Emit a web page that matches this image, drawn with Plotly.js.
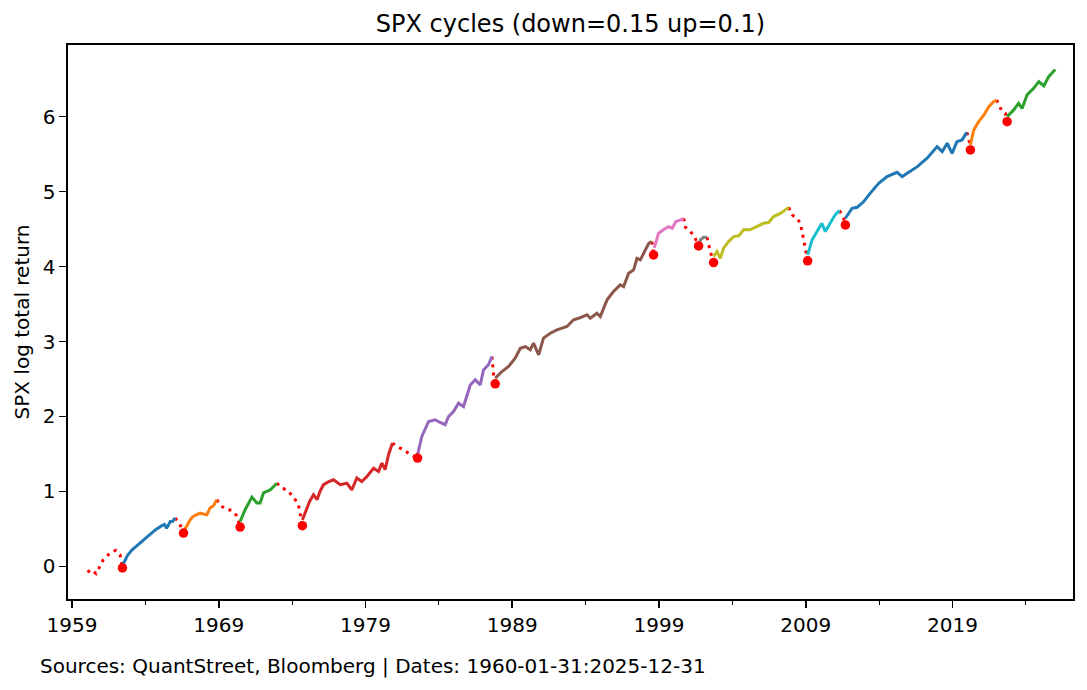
<!DOCTYPE html>
<html>
<head>
<meta charset="utf-8">
<script src="https://cdn.plot.ly/plotly-3.0.1.min.js"></script>
<style>
  body { margin: 0; background: #fff; }
  #chart { width: 1087px; height: 690px; }
</style>
</head>
<body>
<div id="chart"></div>
<script>
// SPX log total return, split into up cycles (solid) and drawdowns (dotted)
// values, x in decimal years

// up cycles
const upX = [
  [1962.5, 1962.8, 1963.1, 1963.5, 1963.9, 1964.3, 1964.7, 1965.1, 1965.3, 1965.45, 1965.7, 1965.85, 1966.03],
  [1966.68, 1967.05, 1967.25, 1967.5, 1967.73, 1967.96, 1968.19, 1968.41, 1968.64, 1968.87],
  [1970.46, 1970.8, 1971.26, 1971.6, 1971.82, 1972.05, 1972.5, 1972.96],
  [1974.7, 1974.85, 1975.0, 1975.2, 1975.46, 1975.7, 1975.9, 1976.14, 1976.5, 1976.82, 1977.28, 1977.73, 1978.07, 1978.41, 1978.75, 1979.1, 1979.55, 1979.89, 1980.12, 1980.34, 1980.57, 1980.84],
  [1982.55, 1982.84, 1983.3, 1983.75, 1984.09, 1984.43, 1984.66, 1985.0, 1985.34, 1985.68, 1986.14, 1986.48, 1986.82, 1987.04, 1987.38, 1987.62],
  [1987.84, 1988.3, 1988.75, 1989.2, 1989.55, 1989.89, 1990.23, 1990.45, 1990.8, 1991.13, 1991.59, 1992.05, 1992.73, 1993.18, 1993.52, 1994.1, 1994.32, 1994.77, 1995.0, 1995.46, 1995.9, 1996.36, 1996.59, 1996.93, 1997.27, 1997.5, 1997.73, 1998.07, 1998.3, 1998.52],
  [1998.68, 1998.97, 1999.3, 1999.65, 1999.9, 2000.15, 2000.45, 2000.68],
  [2001.75, 2001.82, 2002.04, 2002.27],
  [2002.72, 2002.95, 2003.18, 2003.4, 2003.74, 2004.09, 2004.43, 2004.77, 2005.2, 2005.68, 2006.13, 2006.47, 2006.81, 2007.27, 2007.61, 2007.84],
  [2009.13, 2009.43, 2009.77, 2010.1, 2010.33, 2010.68, 2011.0, 2011.3],
  [2011.7, 2012.16, 2012.5, 2012.95, 2013.4, 2013.97, 2014.54, 2015.22, 2015.57, 2015.9, 2016.6, 2017.27, 2017.95, 2018.3, 2018.64, 2018.97, 2019.3, 2019.65, 2019.97],
  [2020.22, 2020.45, 2020.78, 2021.13, 2021.47, 2021.8, 2022.0],
  [2022.72, 2023.17, 2023.5, 2023.74, 2024.08, 2024.53, 2024.88, 2025.22, 2025.55, 2026.0]
];
const upY = [
  [0.036, 0.15, 0.22, 0.29, 0.35, 0.43, 0.49, 0.54, 0.56, 0.51, 0.6, 0.6, 0.645],
  [0.49, 0.62, 0.667, 0.69, 0.71, 0.7, 0.69, 0.78, 0.81, 0.89],
  [0.6, 0.756, 0.925, 0.845, 0.845, 0.98, 1.02, 1.11],
  [0.62, 0.7, 0.78, 0.87, 0.956, 0.89, 1.0, 1.09, 1.13, 1.156, 1.09, 1.11, 1.02, 1.18, 1.133, 1.2, 1.31, 1.267, 1.378, 1.29, 1.49, 1.645],
  [1.49, 1.733, 1.933, 1.956, 1.92, 1.89, 2.0, 2.067, 2.178, 2.133, 2.42, 2.49, 2.42, 2.62, 2.69, 2.8],
  [2.51, 2.6, 2.667, 2.778, 2.91, 2.933, 2.89, 2.978, 2.823, 3.045, 3.11, 3.156, 3.2, 3.29, 3.31, 3.356, 3.31, 3.378, 3.333, 3.556, 3.667, 3.756, 3.733, 3.91, 3.956, 4.11, 4.09, 4.22, 4.31, 4.333],
  [4.25, 4.445, 4.49, 4.533, 4.51, 4.6, 4.62, 4.645],
  [4.3, 4.356, 4.39, 4.39],
  [4.133, 4.2, 4.11, 4.245, 4.333, 4.4, 4.41, 4.49, 4.49, 4.533, 4.578, 4.587, 4.667, 4.71, 4.756, 4.79],
  [4.156, 4.356, 4.467, 4.578, 4.467, 4.578, 4.69, 4.747],
  [4.645, 4.778, 4.79, 4.867, 4.98, 5.11, 5.2, 5.258, 5.2, 5.245, 5.333, 5.445, 5.6, 5.533, 5.645, 5.51, 5.667, 5.69, 5.79],
  [5.623, 5.823, 5.933, 6.02, 6.133, 6.2, 6.222],
  [6.0, 6.09, 6.178, 6.11, 6.29, 6.378, 6.467, 6.41, 6.533, 6.63]
];

// drawdowns (first one is the stretch before the first trough)
const downX = [
  [1960.05, 1960.35, 1960.64, 1960.9, 1961.14, 1961.48, 1961.78, 1962.0, 1962.28, 1962.44],
  [1966.03, 1966.32, 1966.6],
  [1968.87, 1969.1, 1969.44, 1969.9, 1970.23, 1970.46],
  [1972.96, 1973.3, 1973.64, 1974.09, 1974.43, 1974.55, 1974.7],
  [1980.84, 1981.14, 1981.6, 1981.93, 1982.55],
  [1987.62, 1987.68, 1987.73, 1987.84],
  [1998.52, 1998.63],
  [2000.68, 2000.8, 2001.13, 2001.36, 2001.7],
  [2002.27, 2002.38, 2002.5, 2002.72],
  [2007.84, 2008.07, 2008.4, 2008.63, 2008.75, 2008.86, 2008.97, 2009.13],
  [2011.3, 2011.58, 2011.7],
  [2019.97, 2020.1, 2020.22],
  [2022.0, 2022.15, 2022.38, 2022.6, 2022.72]
];
const downY = [
  [-0.075, -0.044, -0.097, 0.0, 0.09, 0.156, 0.2, 0.213, 0.156, -0.02],
  [0.645, 0.58, 0.445],
  [0.89, 0.82, 0.765, 0.747, 0.676, 0.525],
  [1.11, 1.045, 1.02, 0.93, 0.82, 0.71, 0.543],
  [1.645, 1.6, 1.556, 1.51, 1.445],
  [2.8, 2.667, 2.556, 2.436],
  [4.333, 4.156],
  [4.645, 4.525, 4.467, 4.42, 4.276],
  [4.39, 4.29, 4.2, 4.053],
  [4.79, 4.69, 4.645, 4.578, 4.467, 4.356, 4.245, 4.076],
  [4.747, 4.645, 4.556],
  [5.79, 5.725, 5.556],
  [6.222, 6.156, 6.067, 6.045, 5.933]
];

// cycle troughs
const troughX = [1962.44, 1966.6, 1970.46, 1974.7, 1982.55, 1987.84, 1998.63, 2001.7, 2002.72, 2009.13, 2011.7, 2020.22, 2022.72];
const troughY = [-0.02, 0.445, 0.525, 0.543, 1.445, 2.436, 4.156, 4.276, 4.053, 4.076, 4.556, 5.556, 5.933];

const majorYears = [1959, 1969, 1979, 1989, 1999, 2009, 2019];
const minorYears = [1964, 1974, 1984, 1994, 2004, 2014, 2024];

// matplotlib default colour cycle
const palette = ['#1f77b4', '#ff7f0e', '#2ca02c', '#d62728', '#9467bd',
                 '#8c564b', '#e377c2', '#7f7f7f', '#bcbd22', '#17becf'];

let dataHolder = [];

for (let i = 0; i < downX.length; i++) {
  dataHolder.push({
    x: downX[i],
    y: downY[i],
    type: 'scatter',
    mode: 'lines',
    line: { color: '#ff0000', width: 3, dash: '3px,5px' },
    hoverinfo: 'skip'
  });
}

for (let i = 0; i < upX.length; i++) {
  dataHolder.push({
    x: upX[i],
    y: upY[i],
    type: 'scatter',
    mode: 'lines',
    line: { color: palette[i % palette.length], width: 3 },
    hoverinfo: 'skip'
  });
}

dataHolder.push({
  x: troughX,
  y: troughY,
  type: 'scatter',
  mode: 'markers',
  marker: { color: '#ff0000', size: 9.5 },
  hoverinfo: 'skip'
});

const tickFont = { family: 'DejaVu Sans', size: 20, color: '#000' };

let layout = {
  width: 1087,
  height: 690,
  margin: { l: 68, r: 14, t: 45, b: 91 },
  paper_bgcolor: '#fff',
  plot_bgcolor: '#fff',
  showlegend: false,
  font: tickFont,
  title: {
    text: 'SPX cycles (down=0.15 up=0.1)',
    font: { family: 'DejaVu Sans', size: 24, color: '#000' },
    xref: 'paper', x: 0.5, xanchor: 'center',
    yref: 'container', y: 1 - 24 / 690, yanchor: 'middle'
  },
  xaxis: {
    range: [1958.73, 2027.21],
    tickmode: 'array',
    tickvals: majorYears,
    ticktext: majorYears.map(String),
    ticks: 'outside', ticklen: 7, tickwidth: 1.6, tickcolor: '#000',
    minor: { tickmode: 'array', tickvals: minorYears, ticks: 'outside', ticklen: 4, tickwidth: 1.2, tickcolor: '#000', showgrid: false },
    showline: true, linecolor: '#000', linewidth: 1.6, mirror: true,
    showgrid: false, zeroline: false,
    tickfont: tickFont
  },
  yaxis: {
    range: [-0.435, 6.956],
    tick0: 0, dtick: 1,
    ticks: 'outside', ticklen: 7, tickwidth: 1.6, tickcolor: '#000',
    showline: true, linecolor: '#000', linewidth: 1.6, mirror: true,
    showgrid: false, zeroline: false,
    tickfont: tickFont,
    title: { text: 'SPX log total return', font: tickFont, standoff: 7 }
  },
  annotations: [{
    text: 'Sources: QuantStreet, Bloomberg | Dates: 1960-01-31:2025-12-31',
    xref: 'paper', yref: 'paper',
    x: (38 - 68) / 1005, y: (599 - 666) / 554,
    xanchor: 'left', yanchor: 'middle',
    showarrow: false,
    font: tickFont
  }]
};

Plotly.newPlot('chart', dataHolder, layout, { displayModeBar: false, staticPlot: true });
</script>
</body>
</html>
